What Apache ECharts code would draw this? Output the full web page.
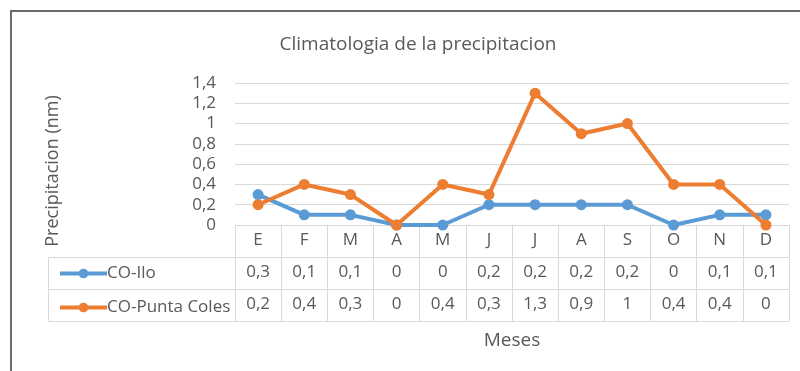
<!DOCTYPE html>
<html>
<head>
<meta charset="utf-8">
<script src="https://cdn.jsdelivr.net/npm/echarts@6/dist/echarts.min.js"></script>
<style>
  html, body { margin: 0; padding: 0; background: #fff; }
  #chart { width: 800px; height: 371px; }
</style>
</head>
<body>
<div id="chart"></div>
<script>
// Monthly precipitation climatology for two stations
const months = ['E', 'F', 'M', 'A', 'M', 'J', 'J', 'A', 'S', 'O', 'N', 'D'];
const ilo = [0.3, 0.1, 0.1, 0, 0, 0.2, 0.2, 0.2, 0.2, 0, 0.1, 0.1];
const puntaColes = [0.2, 0.4, 0.3, 0, 0.4, 0.3, 1.3, 0.9, 1, 0.4, 0.4, 0];
const seriesNames = ['CO-Ilo', 'CO-Punta Coles'];
const yTicks = [0, 0.2, 0.4, 0.6, 0.8, 1, 1.2, 1.4];

const FONT = 'Open Sans';
const TXT = '#595959';
const LINE = '#D9D9D9';
const BLUE = '#5B9BD5';
const ORANGE = '#ED7D31';

const GRID = { left: 235, right: 11, top: 83, bottom: 146 };
const ROW = 32;            // height of one data-table row
const fmt = v => String(v).replace('.', ',');

const chart = echarts.init(document.getElementById('chart'));

// one category axis per table row, stacked below the plot
function tableAxis(data, offset, showLine) {
  return {
    type: 'category', data: data, position: 'bottom', offset: offset,
    boundaryGap: true,
    axisLine: { show: showLine, lineStyle: { color: LINE, width: 1 } },
    axisTick: { show: false },
    axisLabel: { show: data.length > 0, interval: 0, margin: 7, color: TXT, fontFamily: FONT, fontSize: 17 },
    splitLine: { show: false }
  };
}

chart.setOption({
  animation: false,
  title: {
    text: 'Climatologia de la precipitacion',
    left: 413, top: 30, textAlign: 'center',
    textStyle: { color: TXT, fontFamily: FONT, fontSize: 19, fontWeight: 'normal' }
  },
  legend: {
    orient: 'vertical', left: 53, top: 260,
    itemWidth: 47, itemHeight: 12, itemGap: 17,
    data: seriesNames,
    lineStyle: { width: 4 },
    textStyle: { color: TXT, fontFamily: FONT, fontSize: 17, padding: [0, 0, 0, -5] }
  },
  grid: GRID,
  xAxis: [
    {
      type: 'category', data: months, boundaryGap: true,
      axisLine: { show: true, lineStyle: { color: LINE, width: 1 } },
      axisTick: { show: true, interval: 0, length: ROW * 3, lineStyle: { color: LINE, width: 1 } },
      axisLabel: { interval: 0, margin: 7, color: TXT, fontFamily: FONT, fontSize: 17 },
      name: 'Meses', nameLocation: 'middle', nameGap: 106,
      nameTextStyle: { color: TXT, fontFamily: FONT, fontSize: 19 }
    },
    tableAxis(ilo.map(fmt), ROW, true),
    tableAxis(puntaColes.map(fmt), ROW * 2, true),
    tableAxis([], ROW * 3, true)
  ],
  yAxis: {
    type: 'value', min: 0, max: yTicks[yTicks.length - 1], interval: 0.2,
    axisLine: { show: false }, axisTick: { show: false },
    axisLabel: { color: TXT, fontFamily: FONT, fontSize: 17, margin: 19, formatter: v => fmt(+v.toFixed(1)) },
    splitLine: { lineStyle: { color: LINE, width: 1 } }
  },
  graphic: [
    // outer chart frame
    { type: 'rect', shape: { x: 11, y: 11, width: 820, height: 400 },
      style: { fill: 'none', stroke: '#6b6b6b', lineWidth: 2 }, silent: true, z: 0 },
    // legend column of the data table
    { type: 'polyline', shape: { points: [[GRID.left, 225.5 + ROW], [48.5, 225.5 + ROW], [48.5, 225.5 + ROW * 3], [GRID.left, 225.5 + ROW * 3]] },
      style: { fill: 'none', stroke: LINE, lineWidth: 1 }, silent: true },
    { type: 'line', shape: { x1: 48.5, y1: 225.5 + ROW * 2, x2: GRID.left, y2: 225.5 + ROW * 2 },
      style: { stroke: LINE, lineWidth: 1 }, silent: true },
    // y axis title
    { type: 'text', x: 53, y: 171, rotation: Math.PI / 2,
      style: { text: 'Precipitacion (nm)', fill: TXT, font: '18px "' + FONT + '"', align: 'center', verticalAlign: 'middle' } }
  ],
  series: [
    { name: seriesNames[0], type: 'line', data: ilo, symbol: 'circle', symbolSize: 11,
      itemStyle: { color: BLUE }, lineStyle: { color: BLUE, width: 4 }, z: 3 },
    { name: seriesNames[1], type: 'line', data: puntaColes, symbol: 'circle', symbolSize: 11,
      itemStyle: { color: ORANGE }, lineStyle: { color: ORANGE, width: 4 }, z: 4 }
  ]
});
</script>
</body>
</html>
